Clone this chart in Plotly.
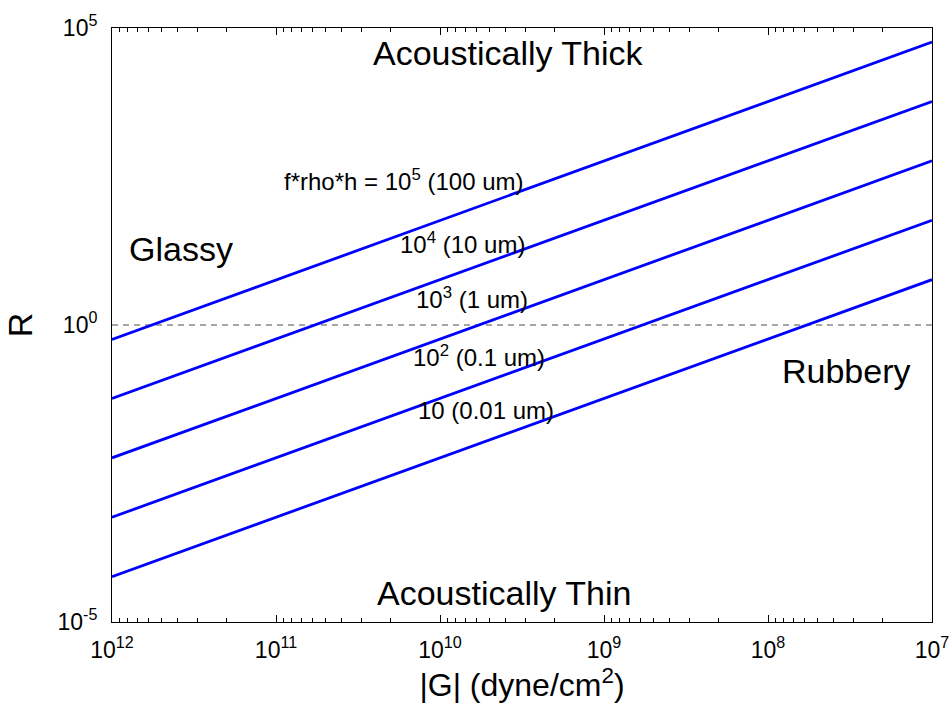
import plotly.graph_objects as go

# Shear modulus range (dyne/cm^2), plotted high to low
G_ends = [1e12, 1e7]

# Acoustic ratio R at both ends of each f*rho*h line
R_fph_1e5 = [0.57, 5.8e4]
R_fph_1e4 = [0.058, 5.8e3]
R_fph_1e3 = [0.0058, 580]
R_fph_1e2 = [5.8e-4, 58]
R_fph_1e1 = [5.8e-5, 5.8]
series = [R_fph_1e5, R_fph_1e4, R_fph_1e3, R_fph_1e2, R_fph_1e1]

line_labels = [
    "f*rho*h = 10<sup>5</sup> (100 um)",
    "10<sup>4</sup> (10 um)",
    "10<sup>3</sup> (1 um)",
    "10<sup>2</sup> (0.1 um)",
    "10 (0.01 um)",
]
# label anchor positions (log10 G, log10 R)
label_pos = [(10.22, 2.44), (9.86, 1.38), (9.805, 0.45), (9.762, -0.53), (9.72, -1.44)]

regions = ["Acoustically Thick", "Acoustically Thin", "Glassy", "Rubbery"]
region_pos = [(9.585, 4.58), (9.604, -4.51), (11.58, 1.28), (7.521, -0.78)]

x_ticks = [1e12, 1e11, 1e10, 1e9, 1e8, 1e7]
x_ticktext = ["10<sup>12</sup>", "10<sup>11</sup>", "10<sup>10</sup>",
              "10<sup>9</sup>", "10<sup>8</sup>", "10<sup>7</sup>"]
y_ticks = [1e-5, 1e0, 1e5]
y_ticktext = ["10<sup>-5</sup>", "10<sup>0</sup>", "10<sup>5</sup>"]

FONT = "Liberation Sans, Arial, sans-serif"

fig = go.Figure()

# R = 1 boundary
fig.add_trace(go.Scatter(
    x=G_ends, y=[1, 1], mode="lines",
    line=dict(color="#4d4d4d", width=1, dash="6px,5px"),
    showlegend=False, hoverinfo="skip",
))

for r in series:
    fig.add_trace(go.Scatter(
        x=G_ends, y=r, mode="lines",
        line=dict(color="#0000ff", width=2.8),
        showlegend=False,
    ))

for txt, (lx, ly) in zip(line_labels, label_pos):
    fig.add_annotation(x=lx, y=ly, xref="x", yref="y", text=txt,
                       showarrow=False, font=dict(size=24, color="black", family=FONT),
                       xanchor="center", yanchor="middle")

for txt, (lx, ly) in zip(regions, region_pos):
    fig.add_annotation(x=lx, y=ly, xref="x", yref="y", text=txt,
                       showarrow=False, font=dict(size=34, color="black", family=FONT),
                       xanchor="center", yanchor="middle")

fig.update_layout(
    width=951, height=711,
    margin=dict(l=112, r=19, t=28, b=89),
    paper_bgcolor="white", plot_bgcolor="white",
    font=dict(family=FONT, color="black"),
    showlegend=False,
)

fig.update_xaxes(
    type="log", range=[12, 7], automargin=False,
    tickvals=x_ticks, ticktext=x_ticktext,
    tickfont=dict(size=23, color="black"),
    ticklabelstandoff=7,
    ticks="inside", ticklen=7, tickwidth=1, tickcolor="black",
    minor=dict(ticks="inside", ticklen=4, tickwidth=1, tickcolor="black",
               dtick="D1", showgrid=False),
    showline=True, linecolor="black", linewidth=1, mirror="allticks",
    showgrid=False, zeroline=False,
    title=dict(text="|G| (dyne/cm<sup>2</sup>)", font=dict(size=32, color="black"), standoff=12),
)

fig.update_yaxes(
    type="log", range=[-5, 5], automargin=False,
    tickvals=y_ticks, ticktext=y_ticktext,
    tickfont=dict(size=23, color="black"),
    ticklabelstandoff=9,
    ticks="",
    showline=True, linecolor="black", linewidth=1, mirror=True,
    showgrid=False, zeroline=False,
    title=dict(text="R", font=dict(size=34, color="black"), standoff=14),
)

fig.write_html("out.html")
